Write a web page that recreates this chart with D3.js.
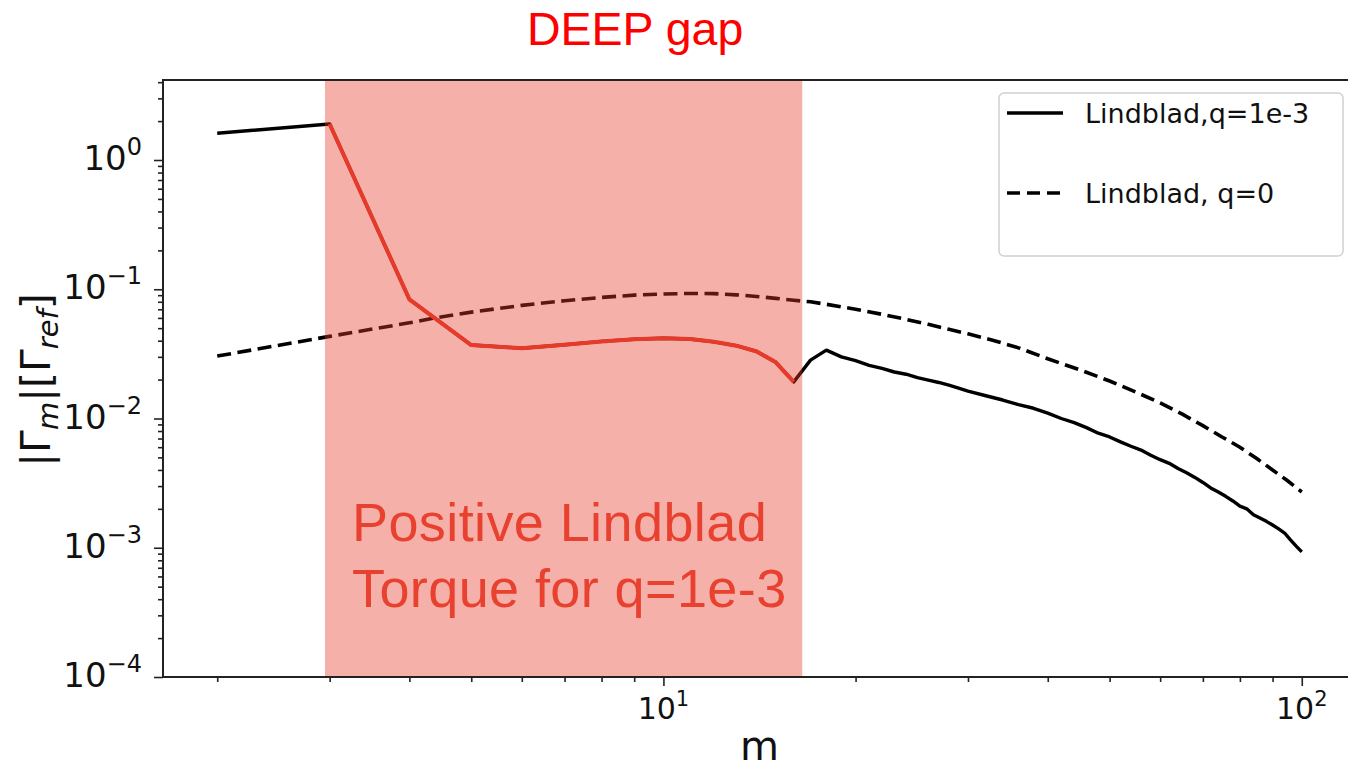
<!DOCTYPE html>
<html>
<head>
<meta charset="utf-8">
<script src="https://cdn.jsdelivr.net/npm/d3@7"></script>
<style>
  body { margin: 0; background: #fff; }
  svg { display: block; }
  text { font-family: "DejaVu Sans", sans-serif; }
</style>
</head>
<body>
<svg id="chart" width="1348" height="772"></svg>
<script>
// Azimuthal mode numbers and |Γ_m| / Γ_ref for the planet-carved gap (q = 1e-3)
const modesGap = [2, 3, 4, 5, 6, 7, 8, 9, 10, 11, 12, 13, 14, 15, 16, 17, 18, 19, 20,
  21, 22, 23, 24, 25, 26, 27, 28, 29, 30, 32, 34, 36, 38, 40, 42, 44, 46, 48, 50,
  52, 54, 56, 58, 60, 62, 64, 66, 68, 70, 72, 74, 76, 78, 80, 82, 84, 86, 88, 90,
  92, 94, 96, 98, 100];
const torqueGap = [1.61, 1.90, 0.0835, 0.0370, 0.0350, 0.0372, 0.0395, 0.0410, 0.0418, 0.0412, 0.0392, 0.0366, 0.0330, 0.0272, 0.0192, 0.0283, 0.0338, 0.0300, 0.0280,
  0.0258, 0.0244, 0.0229, 0.0220, 0.0207, 0.0198, 0.0190, 0.0181, 0.0172, 0.0163, 0.0150, 0.0139, 0.0128, 0.0120, 0.0110, 0.0100, 0.0093, 0.0085, 0.0077, 0.0072,
  0.0066, 0.0061, 0.0057, 0.0052, 0.0048, 0.0045, 0.0041, 0.0038, 0.0035, 0.0032, 0.0029, 0.0027, 0.0025, 0.0023, 0.0021, 0.0020, 0.0018, 0.0017, 0.0016, 0.0015,
  0.0014, 0.0013, 0.00115, 0.00103, 0.00093];

// Same quantity without a planet (q = 0)
const modesFlat = [2, 3, 4, 4.4, 5, 6, 7, 8, 9, 10, 11, 12, 13, 14, 15, 16, 17, 18, 20, 22, 24, 26, 28, 30,
  33, 36, 40, 45, 50, 55, 60, 65, 70, 75, 80, 85, 90, 95, 100];
const torqueFlat = [0.0304, 0.0432, 0.0550, 0.0602, 0.0665, 0.0750, 0.0815, 0.0865, 0.0900, 0.0920, 0.0928, 0.0925, 0.0905, 0.0880, 0.0850, 0.0822, 0.0800, 0.0765, 0.0700, 0.0640, 0.0585, 0.0535, 0.0490, 0.0452,
  0.0400, 0.0352, 0.0290, 0.0237, 0.0195, 0.0160, 0.0132, 0.0108, 0.0088, 0.0072, 0.0060, 0.0049, 0.0040, 0.0033, 0.0027];

// Mode range where the Lindblad torque is positive inside the deep gap
const gapBand = [2.95, 16.5];
const gapCurveRange = [3, 16];

// Tick values
const xMajorTicks = [10, 100];
const yMajorTicks = [1, 0.1, 0.01, 0.001, 0.0001];

const legendLabels = ["Lindblad,q=1e-3", "Lindblad, q=0"];

const svg = d3.select("#chart");
const W = 1348, H = 772;
svg.append("rect").attr("width", W).attr("height", H).attr("fill", "#fff");

const plot = { left: 163, right: 1356, top: 80, bottom: 677 };

// x limits: data extent padded by 5% in log space
const lx0 = Math.log10(d3.min(modesGap)), lx1 = Math.log10(d3.max(modesGap));
const pad = 0.05 * (lx1 - lx0);
const x = d3.scaleLog().domain([10 ** (lx0 - pad), 10 ** (lx1 + pad)]).range([plot.left, plot.right]);
const y = d3.scaleLog().domain([1e-4, 10 ** 0.619]).range([plot.bottom, plot.top]);

const lineGen = d3.line().x(d => x(d[0])).y(d => y(d[1]));
const gapPts = modesGap.map((m, i) => [m, torqueGap[i]]);
const flatPts = modesFlat.map((m, i) => [m, torqueFlat[i]]);

// Curves
svg.append("path").datum(gapPts).attr("d", lineGen)
  .attr("fill", "none").attr("stroke", "#000").attr("stroke-width", 3.4)
  .attr("stroke-linejoin", "round");
svg.append("path").datum(flatPts).attr("d", lineGen)
  .attr("fill", "none").attr("stroke", "#000").attr("stroke-width", 3.6)
  .attr("stroke-dasharray", "14,6.5");

// Translucent band over the gap-mode range
svg.append("rect")
  .attr("x", x(gapBand[0])).attr("y", plot.top + 1)
  .attr("width", x(gapBand[1]) - x(gapBand[0]))
  .attr("height", plot.bottom - plot.top - 1)
  .attr("fill", "rgb(232,57,42)").attr("fill-opacity", 0.4);

// Highlighted part of the q=1e-3 curve
svg.append("path").datum(gapPts.filter(d => d[0] >= gapCurveRange[0] && d[0] <= gapCurveRange[1]))
  .attr("d", lineGen).attr("fill", "none").attr("stroke", "#e63a2b")
  .attr("stroke-width", 4).attr("stroke-linejoin", "round");

// Minor ticks
const xMinor = [];
d3.range(0, 3).forEach(e => { for (let k = 2; k <= 9; k++) { const v = k * 10 ** e; if (v > x.domain()[0] && v < x.domain()[1]) xMinor.push(v); } });
const yMinor = [];
d3.range(-4, 1).forEach(e => { for (let k = 2; k <= 9; k++) { const v = k * 10 ** e; if (v < y.domain()[1]) yMinor.push(v); } });

const axisColor = "#222";
const xAxisG = svg.append("g").attr("transform", `translate(0,${plot.bottom})`);
xAxisG.call(d3.axisBottom(x).tickValues(xMinor).tickSize(5).tickFormat(() => ""));
xAxisG.append("g").call(d3.axisBottom(x).tickValues(xMajorTicks).tickSize(9).tickFormat(() => ""));
const yAxisG = svg.append("g").attr("transform", `translate(${plot.left},0)`);
yAxisG.call(d3.axisLeft(y).tickValues(yMinor).tickSize(5).tickFormat(() => ""));
yAxisG.append("g").call(d3.axisLeft(y).tickValues(yMajorTicks).tickSize(9).tickFormat(() => ""));
svg.selectAll(".domain").remove();
svg.selectAll(".tick line").attr("stroke", axisColor).attr("stroke-width", 1.6);

// Frame
const frame = svg.append("g").attr("stroke", axisColor).attr("stroke-width", 2).attr("fill", "none");
frame.append("rect").attr("x", plot.left).attr("y", plot.top)
  .attr("width", plot.right - plot.left).attr("height", plot.bottom - plot.top);

// Power-of-ten tick labels
function powerLabel(sel, exp, supSize, rise) {
  sel.append("tspan").text("10");
  sel.append("tspan").attr("font-size", supSize).attr("dy", -rise)
    .text(exp < 0 ? "\u2212" + Math.abs(exp) : String(exp));
}
xMajorTicks.forEach(v => {
  const t = svg.append("text").attr("x", x(v)).attr("y", 719)
    .attr("text-anchor", "middle").attr("font-size", 30).attr("fill", "#111");
  powerLabel(t, Math.round(Math.log10(v)), 21, 13);
});
yMajorTicks.forEach(v => {
  const t = svg.append("text").attr("x", 142).attr("y", y(v) + 10)
    .attr("text-anchor", "end").attr("font-size", 34).attr("fill", "#111");
  powerLabel(t, Math.round(Math.log10(v)), 24, 15);
});

// Axis titles
svg.append("text").attr("x", (plot.left + plot.right) / 2).attr("y", 760)
  .attr("text-anchor", "middle").attr("font-size", 40).attr("fill", "#111").text("m");

const yl = svg.append("text").attr("transform", "translate(50,380) rotate(-90)")
  .attr("text-anchor", "middle").attr("font-size", 41).attr("fill", "#111");
yl.append("tspan").text("|\u0393");
yl.append("tspan").attr("font-size", 29).attr("font-style", "italic").attr("dy", 8).text("m");
yl.append("tspan").attr("dy", -8).text("|[\u0393");
yl.append("tspan").attr("font-size", 29).attr("font-style", "italic").attr("dy", 8).text("ref");
yl.append("tspan").attr("dy", -8).text("]");

// Legend
const lg = svg.append("g");
lg.append("rect").attr("x", 999).attr("y", 93).attr("width", 344).attr("height", 163)
  .attr("rx", 5).attr("fill", "#fff").attr("stroke", "#d0d0d0").attr("stroke-width", 1.5);
const legendRows = [
  { y: 113, dash: null },
  { y: 193, dash: "13,7" }
];
legendRows.forEach((r, i) => {
  lg.append("line").attr("x1", 1007).attr("x2", 1063).attr("y1", r.y).attr("y2", r.y)
    .attr("stroke", "#000").attr("stroke-width", 3.6)
    .attr("stroke-dasharray", r.dash);
  lg.append("text").attr("x", 1085).attr("y", r.y + 10).attr("font-size", 27)
    .attr("fill", "#111").text(legendLabels[i]);
});

// Annotations
svg.append("text").attr("x", 527).attr("y", 45)
  .style("font-family", "'Liberation Sans', Arial, sans-serif")
  .attr("font-size", 46.5).attr("fill", "#ff0000").text("DEEP gap");
const note = svg.append("text").style("font-family", "'Liberation Sans', Arial, sans-serif")
  .attr("font-size", 54).attr("letter-spacing", 0.4).attr("fill", "#e8412f");
note.append("tspan").attr("x", 352).attr("y", 541).text("Positive Lindblad");
note.append("tspan").attr("x", 352).attr("y", 607).text("Torque for q=1e-3");
</script>
</body>
</html>
